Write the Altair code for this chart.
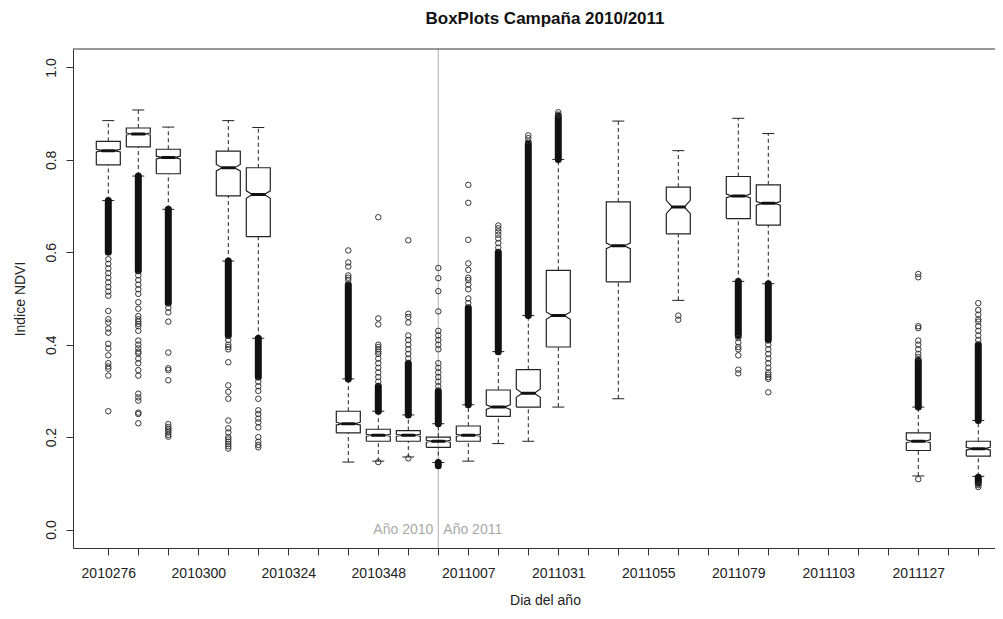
import altair as alt
import pandas as pd

# ---------------- data ----------------
dates = ["2010276", "2010284", "2010292", "2010300", "2010308", "2010316",
         "2010324", "2010332", "2010340", "2010348", "2010356", "2010364",
         "2011007", "2011015", "2011023", "2011031", "2011039", "2011047",
         "2011055", "2011063", "2011071", "2011079", "2011087", "2011095",
         "2011103", "2011111", "2011119", "2011127", "2011135", "2011143"]
tick_labels = ["2010276", "2010300", "2010324", "2010348", "2011007",
               "2011031", "2011055", "2011079", "2011103", "2011127"]

box_dates = ["2010276", "2010284", "2010292", "2010308", "2010316",
             "2010340", "2010348", "2010356", "2010364", "2011007",
             "2011015", "2011023", "2011031", "2011047", "2011063",
             "2011079", "2011087", "2011127", "2011143"]
lower_whisker = [0.712, 0.765, 0.693, 0.581, 0.414, 0.146, 0.148, 0.157, 0.145, 0.148,
                 0.186, 0.191, 0.265, 0.283, 0.496, 0.537, 0.532, 0.116, 0.115]
q1 = [0.789, 0.828, 0.770, 0.722, 0.634, 0.209, 0.191, 0.191, 0.178, 0.191,
      0.245, 0.265, 0.395, 0.536, 0.640, 0.673, 0.659, 0.171, 0.159]
median = [0.820, 0.856, 0.805, 0.783, 0.725, 0.229, 0.204, 0.204, 0.191, 0.204,
          0.265, 0.295, 0.463, 0.614, 0.698, 0.722, 0.706, 0.191, 0.175]
q3 = [0.840, 0.869, 0.823, 0.819, 0.783, 0.256, 0.217, 0.214, 0.200, 0.224,
      0.302, 0.346, 0.561, 0.709, 0.741, 0.764, 0.746, 0.209, 0.191]
upper_whisker = [0.885, 0.908, 0.871, 0.885, 0.870, 0.326, 0.256, 0.248, 0.229, 0.270,
                 0.385, 0.463, 0.801, 0.884, 0.820, 0.890, 0.857, 0.265, 0.236]
notch = [0.003, 0.002, 0.003, 0.007, 0.008, 0.003, 0.002, 0.002, 0.002, 0.002,
         0.005, 0.009, 0.008, 0.006, 0.0145, 0.004, 0.004, 0.003, 0.003]

# runs of outliers so dense that their circles merge into a solid column
dense_runs = {
    "2010276": [(0.600, 0.712)],
    "2010284": [(0.560, 0.765)],
    "2010292": [(0.490, 0.693)],
    "2010308": [(0.420, 0.581)],
    "2010316": [(0.330, 0.414)],
    "2010340": [(0.326, 0.530)],
    "2010348": [(0.256, 0.310)],
    "2010356": [(0.248, 0.360)],
    "2010364": [(0.229, 0.300), (0.138, 0.145)],
    "2011007": [(0.270, 0.480)],
    "2011015": [(0.385, 0.600)],
    "2011023": [(0.463, 0.835)],
    "2011031": [(0.801, 0.895)],
    "2011079": [(0.420, 0.537)],
    "2011087": [(0.410, 0.532)],
    "2011127": [(0.265, 0.366)],
    "2011143": [(0.236, 0.400), (0.100, 0.113)],
}
# individually visible outliers
outliers = {
    "2010276": [0.585, 0.575, 0.565, 0.555, 0.545, 0.535, 0.525, 0.515, 0.506, 0.473,
                0.455, 0.448, 0.435, 0.426, 0.402, 0.392, 0.377, 0.360, 0.353, 0.348,
                0.333, 0.256],
    "2010284": [0.550, 0.540, 0.530, 0.520, 0.510, 0.492, 0.478, 0.462, 0.455, 0.450,
                0.445, 0.440, 0.430, 0.409, 0.400, 0.392, 0.385, 0.381, 0.370, 0.360,
                0.345, 0.333, 0.294, 0.286, 0.279, 0.253, 0.250, 0.230],
    "2010292": [0.480, 0.470, 0.450, 0.383, 0.349, 0.345, 0.323, 0.228, 0.222, 0.218,
                0.214, 0.210, 0.205, 0.201],
    "2010308": [0.410, 0.400, 0.395, 0.390, 0.362, 0.312, 0.298, 0.283, 0.236, 0.219,
                0.210, 0.200, 0.195, 0.190, 0.185, 0.180, 0.175],
    "2010316": [0.320, 0.310, 0.300, 0.283, 0.258, 0.250, 0.240, 0.232, 0.221, 0.200,
                0.190, 0.183, 0.178],
    "2010340": [0.604, 0.578, 0.569, 0.550, 0.545, 0.540],
    "2010348": [0.676, 0.457, 0.444, 0.400, 0.395, 0.390, 0.385, 0.380, 0.370, 0.360,
                0.350, 0.340, 0.330, 0.320, 0.146],
    "2010356": [0.626, 0.467, 0.460, 0.448, 0.420, 0.410, 0.400, 0.390, 0.380, 0.370,
                0.154],
    "2010364": [0.566, 0.544, 0.516, 0.472, 0.430, 0.420, 0.410, 0.400, 0.390, 0.360,
                0.350, 0.340, 0.330, 0.320, 0.310],
    "2011007": [0.746, 0.707, 0.627, 0.576, 0.562, 0.545, 0.540, 0.530, 0.520, 0.500,
                0.490],
    "2011015": [0.658, 0.652, 0.645, 0.638, 0.630, 0.620, 0.610],
    "2011023": [0.853, 0.847, 0.840],
    "2011031": [0.903, 0.898],
    "2011063": [0.463, 0.454],
    "2011079": [0.415, 0.405, 0.395, 0.390, 0.377, 0.346, 0.338],
    "2011087": [0.400, 0.390, 0.380, 0.370, 0.360, 0.350, 0.340, 0.335, 0.330, 0.326,
                0.297],
    "2011127": [0.553, 0.546, 0.440, 0.436, 0.409, 0.400, 0.390, 0.380, 0.373, 0.109],
    "2011143": [0.490, 0.475, 0.465, 0.455, 0.450, 0.440, 0.430, 0.420, 0.410, 0.096,
                0.092],
}
year_break = "2010364"
year_labels = ["Año 2010", "Año 2011"]

# ---------------- tables built from the arrays ----------------
pos_of = {d: i for i, d in enumerate(dates)}
HALF = 0.4        # half box width, in category steps
NOTCH_FRAC = 0.5

boxes = pd.DataFrame({
    "date": box_dates,
    "pos": [pos_of[d] for d in box_dates],
    "lo": lower_whisker, "q1": q1, "med": median, "q3": q3, "hi": upper_whisker,
})

outline_rows = []
for d, a, m, b, n in zip(box_dates, q1, median, q3, notch):
    p = pos_of[d]
    verts = [(-1, a), (-1, m - n), (-NOTCH_FRAC, m), (-1, m + n), (-1, b),
             (1, b), (1, m + n), (NOTCH_FRAC, m), (1, m - n), (1, a), (-1, a)]
    for k, (dx, yv) in enumerate(verts):
        outline_rows.append({"date": d, "k": k, "px": p + dx * HALF, "v": yv})
outline = pd.DataFrame(outline_rows)

dense = pd.DataFrame([{"date": d, "pos": pos_of[d], "lo": lo, "hi": hi}
                      for d, runs in dense_runs.items() for lo, hi in runs])
points = pd.DataFrame([{"date": d, "pos": pos_of[d], "v": v}
                       for d, vals in outliers.items() for v in vals])

# ---------------- scales & axes ----------------
W, H = 922, 499
FONT = "Liberation Sans"
xscale = alt.Scale(domain=[-1.177, 29.557], nice=False, zero=False)
yscale = alt.Scale(domain=[-0.04, 1.04], nice=False, zero=False)

label_js = "[" + ",".join("'%s'" % (d if d in tick_labels else "") for d in dates) + "]"
xaxis = alt.Axis(title="Dia del año", values=list(range(len(dates))),
                 labelExpr=label_js + "[datum.value]", tickSize=7, labelPadding=18,
                 labelBaseline="middle", labelOverlap=False, labelFlush=False,
                 titleX=472, titleY=52, titleBaseline="middle", titleAlign="center",
                 titleAnchor="start")
yaxis = alt.Axis(title="Indice NDVI", values=[0.0, 0.2, 0.4, 0.6, 0.8, 1.0], format=".1f",
                 tickSize=7, labelAngle=270, labelAlign="center",
                 labelBaseline="alphabetic", labelPadding=11,
                 titleX=-53, titleY=H / 2, titleAngle=270, titleAlign="center",
                 titleBaseline="middle", titleAnchor="start")


def X(field):
    return alt.X(field, type="quantitative", scale=xscale, axis=xaxis)


def Y(field):
    return alt.Y(field, type="quantitative", scale=yscale, axis=yaxis)


src_boxes = alt.Chart(boxes)

year_line = alt.Chart(pd.DataFrame({"pos": [pos_of[year_break]]})).mark_rule(
    color="#bdbdbd", strokeWidth=1.2).encode(x=X("pos"))

year_df = pd.DataFrame({"pos": [pos_of[year_break]], "v": [0.0],
                        "a": [year_labels[0]], "b": [year_labels[1]]})
year_left = alt.Chart(year_df).mark_text(align="right", baseline="middle", dx=-5,
                                         font=FONT, fontSize=14, color="#a8a8a8").encode(
    x=X("pos"), y=Y("v"), text="a:N")
year_right = alt.Chart(year_df).mark_text(align="left", baseline="middle", dx=5,
                                          font=FONT, fontSize=14, color="#a8a8a8").encode(
    x=X("pos"), y=Y("v"), text="b:N")

whisk_hi = src_boxes.mark_rule(color="#222", strokeDash=[4, 3]).encode(
    x=X("pos"), y=Y("q3"), y2="hi")
whisk_lo = src_boxes.mark_rule(color="#222", strokeDash=[4, 3]).encode(
    x=X("pos"), y=Y("lo"), y2="q1")

caps = src_boxes.transform_calculate(
    xl="datum.pos - 0.2", xr="datum.pos + 0.2"
).transform_fold(["lo", "hi"], as_=["which", "cv"]).mark_rule(color="#222").encode(
    x=X("xl"), x2="xr", y=Y("cv"))

box_outline = alt.Chart(outline).mark_line(color="#222", strokeWidth=1.2).encode(
    x=X("px"), y=Y("v"), detail="date:N", order="k:Q")

med_line = src_boxes.transform_calculate(
    xl="datum.pos - 0.2", xr="datum.pos + 0.2"
).mark_rule(color="#111", strokeWidth=3, strokeCap="round").encode(
    x=X("xl"), x2="xr", y=Y("med"))

dense_cols = alt.Chart(dense).mark_rule(color="#111", strokeWidth=7,
                                        strokeCap="round").encode(
    x=X("pos"), y=Y("lo"), y2="hi")

out_pts = alt.Chart(points).mark_point(shape="circle", filled=False, size=30,
                                       strokeWidth=1, color="#333", opacity=1).encode(
    x=X("pos"), y=Y("v"))

top_frame = alt.Chart(pd.DataFrame({"a": [0]})).mark_rule(color="#333").encode(
    x=alt.value(0), x2=alt.value(W), y=alt.value(0))

chart = alt.layer(
    year_line, year_left, year_right, whisk_hi, whisk_lo, caps, box_outline,
    med_line, dense_cols, out_pts, top_frame
).properties(
    width=W, height=H,
    autosize=alt.AutoSizeParams(type="none"),
    padding={"left": 65, "top": 41, "right": 0, "bottom": 63},
    title=alt.TitleParams("BoxPlots Campaña 2010/2011", font=FONT, fontSize=17,
                          fontWeight="bold", anchor="middle", dx=11, offset=20,
                          color="#111"),
).configure_view(stroke=None).configure_axis(
    grid=False, domainColor="#333", tickColor="#333", labelColor="#222",
    titleColor="#222", labelFont=FONT, titleFont=FONT, labelFontSize=14,
    titleFontSize=14, titleFontWeight="normal"
)

chart.save("out.html", embed_options={"renderer": "svg", "actions": False})
